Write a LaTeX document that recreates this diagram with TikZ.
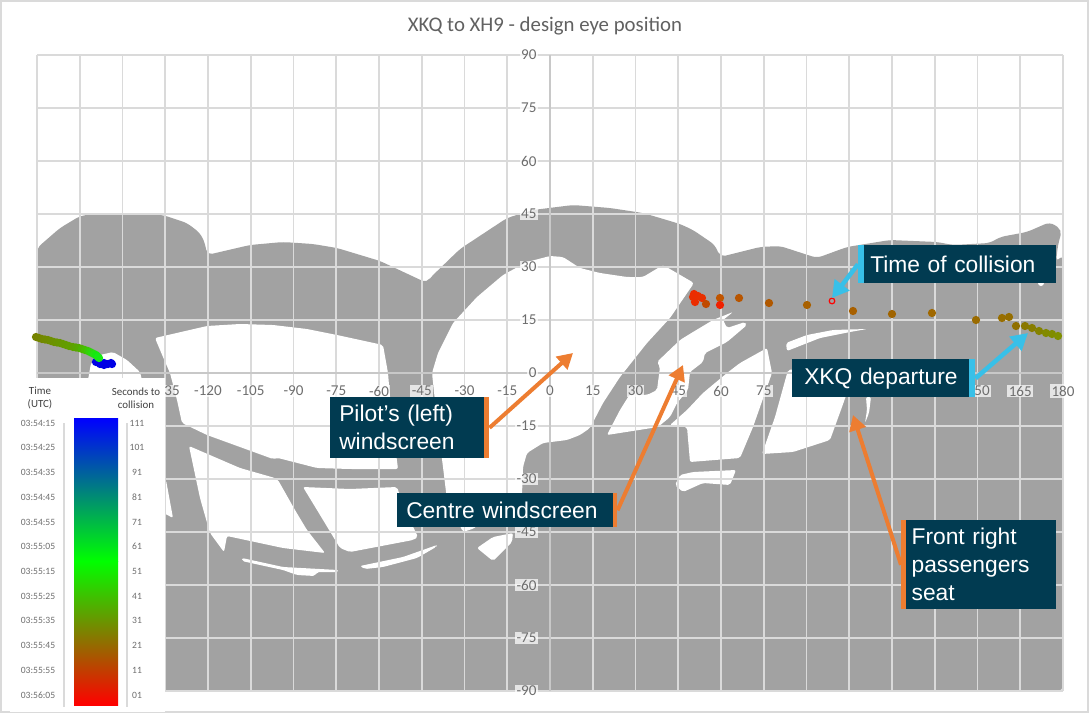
\documentclass[tikz,border=0pt]{standalone}
\usepackage{fontspec}
\setmainfont{Liberation Sans}
\newfontfamily\chartfont{Carlito}
\usetikzlibrary{arrows.meta}
\definecolor{cabin}{HTML}{A2A2A2}
\definecolor{gridc}{HTML}{DADADA}
\definecolor{axisc}{HTML}{C8C8C8}
\definecolor{labelc}{HTML}{6E6E6E}
\definecolor{boxblue}{HTML}{013B51}
\definecolor{accorange}{HTML}{ED7D31}
\definecolor{acccyan}{HTML}{38C0E8}
\tikzset{
  x=0.75pt,y=-0.75pt,
  windowshape/.style={fill=white,draw=none,rounded corners=1.5pt},
  gridline/.style={gridc,line width=1.3pt},
  axisline/.style={axisc,line width=1.3pt},
  ticklabel/.style={font=\chartfont\fontsize{11.3}{13}\selectfont,text=labelc,inner sep=1pt,fill=white,fill opacity=.72,text opacity=1},
  legendtext/.style={font=\chartfont\fontsize{7.2}{9}\selectfont,text=labelc,inner sep=0pt},
  legendhead/.style={font=\chartfont\fontsize{8.2}{9.4}\selectfont,text=black!75,inner sep=0pt,align=center},
  callout/.style={fill=boxblue,text=white,font=\fontsize{17.1}{21}\selectfont,align=left,inner ysep=0pt,inner xsep=0pt,anchor=north west},
  orangearrow/.style={accorange,line width=3pt,-{Triangle[length=11.5pt,width=12.5pt]}},
  cyanarrow/.style={acccyan,line width=3.4pt,-{Triangle[length=12.5pt,width=13.5pt]}},
  dot/.style={circle,inner sep=0pt,minimum size=6.2pt},
}
\begin{document}
\begin{tikzpicture}
\useasboundingbox (0,0) rectangle (1090,718);
\fill[white] (0,0) rectangle (1090,718);
% outer frame
\draw[gridc,line width=1pt] (1,1) rectangle (1088,712);
% title
\node[font=\chartfont\fontsize{15.6}{18}\selectfont,text=black!62] (title) at (545,26) {XKQ to XH9 - design eye position};
% cabin
\fill[cabin,rounded corners=4pt] (37,248) -- (60,228) -- (80,216) -- (100,213) -- (163,215) -- (187,223) -- (200,233) -- (205,243) -- (207,255)
 -- (250,245) -- (283,242) -- (313,244) -- (337,248) -- (380,261) -- (427,283) -- (430,278) -- (460,249) -- (507,218) -- (533,210) -- (573,205) -- (610,208) -- (643,213) -- (660,218) -- (680,224) -- (693,230) -- (715,245) -- (720,257)
 -- (760,247) -- (780,246) -- (817,258) -- (847,247) -- (890,240) -- (937,242) -- (953,245) -- (990,243) -- (1000,237) -- (1027,232) -- (1050,222) -- (1062,230) -- (1058,245) -- (1056,262) -- (1063,255)
 -- (1063,691) -- (37,691) -- cycle;
% windows
\fill[windowshape] (88,380) -- (91,363) -- (100,355) -- (113,352) -- (127,360) -- (140,372) -- (142,380) -- cycle;
\fill[windowshape] (155,338) -- (207,326) -- (240,324) -- (273,325) -- (307,329) -- (337,335) -- (383,345) -- (388,373) -- (392,420) -- (398,469) -- (350,469) -- (317,468) -- (278,458) -- (273,459) -- (207,435) -- (182,423) -- (177,400) -- (170,373) -- (163,357) -- cycle;
\fill[windowshape] (160,478) -- (166,480) -- (173,518) -- (160,511) -- cycle;
\fill[windowshape] (189,446) -- (240,468) -- (275,478) -- (278,480) -- (295,510) -- (307,530) -- (325,553) -- (283,548) -- (227,536) -- (224,552) -- (210,533) -- (200,498) -- cycle;
\fill[windowshape] (303,487) -- (350,489) -- (397,487) -- (405,510) -- (418,537) -- (413,540) -- (350,552) -- (340,548) -- (317,510) -- cycle;
\fill[windowshape] (242,558) -- (283,567) -- (338,570) -- (337,572) -- (317,572) -- (315,576) -- (297,575) -- (283,570) -- (260,565) -- (242,561) -- cycle;
\fill[windowshape] (360,566) -- (403,557) -- (437,545) -- (436,547) -- (417,558) -- (383,567) -- (365,569) -- cycle;
\fill[windowshape] (477,548) -- (493,537) -- (513,533) -- (512,542) -- (493,561) -- cycle;
\fill[windowshape,rounded corners=2pt] (432,373) -- (438,353) -- (453,323) -- (477,297) -- (503,275) -- (527,262) -- (550,256) -- (563,257) -- (580,268) -- (600,273) -- (627,277) -- (643,277) -- (663,265) -- (694,283) -- (670,318) -- (647,343) -- (620,377) -- (603,403) -- (590,428) -- (580,435) -- (567,440) -- (543,443) -- (527,453) -- (523,467) -- (522,495) -- (490,510) -- (475,528) -- (463,532) -- (447,500) -- (443,467) -- (437,420) -- cycle;
\fill[windowshape] (657,362) -- (680,340) -- (693,332) -- (713,320) -- (733,312) -- (723,320) -- (727,328) -- (745,322) -- (747,325) -- (727,342) -- (705,353) -- (703,362) -- (690,372) -- (688,390) -- (677,403) -- (670,417) -- (658,427) -- (607,435) -- (620,410) -- (630,394) -- (647,395) -- (657,390) -- (660,367) -- cycle;
\fill[windowshape] (670,425) -- (687,410) -- (703,393) -- (727,373) -- (740,363) -- (767,348) -- (772,373) -- (753,427) -- (740,458) -- (690,462) -- (687,427) -- cycle;
\fill[windowshape] (675,485) -- (680,475) -- (693,472) -- (736,470) -- (730,485) -- (703,483) -- (683,492) -- cycle;
\fill[windowshape] (788,370) -- (775,417) -- (762,454) -- (793,452) -- (830,440) -- (842,407) -- (848,390) -- (830,365) -- cycle;
\fill[windowshape] (786,343) -- (807,335) -- (833,330) -- (867,329) -- (850,332) -- (820,338) -- (787,351) -- cycle;
\fill[windowshape] (866,397) -- (871,397) -- (869,413) -- (865,423) -- (867,410) -- cycle;
\fill[white] (1041,283) circle[radius=3];
% grid
\foreach \i in {-12,...,12} \draw[gridline] ({550+\i*42.75},55) -- ({550+\i*42.75},691);
\foreach \j in {0,...,12} \draw[gridline] (37,{55+\j*53}) -- (1063,{55+\j*53});
\draw[axisline] (550,55) -- (550,691);
\draw[axisline] (37,373) -- (1063,373);
% axis labels
\foreach \v in {-120,-105,-90,-75,-60,-45,-30,-15,0,15,30,45,60,75,165,180}
  \node[ticklabel] (xl\v) at ({550+\v*2.85},391) {\v};
\node[ticklabel] (xlcutleft) at (172,391) {35};
\node[ticklabel] (xlcutright) at (982,391) {50};
\foreach \v in {90,75,60,45,30,15,0,-15,-30,-45,-60,-75,-90}
  \node[ticklabel,anchor=east] (yl\v) at (538,{373-\v*53/15}) {\v};
% trail left
\foreach \x/\y in {96/362,100/364,104/363,104/365,108/364,111/363,112/364}
  \node[dot,fill=blue!90!black] at (\x,\y) {};
\foreach \x/\y/\r/\g/\b in {36/337/118/130/0,39/338/117/132/0,42/339/115/135/0,45/339.5/114/138/0,48/340/112/140/0,51/341/110/143/0,54/342/108/145/0,57/342.5/106/148/0,60/343/104/150/0,63/344/102/153/0,66/345/100/155/0,69/346/98/158/0,73/347/95/160/0,76/347.5/90/165/0,79/348/85/170/0,82/349/78/180/0,85/350/70/190/0,88/351/60/200/5,90/352/50/210/10,92/353/42/218/12,94/354/35/225/15,96/355/25/230/15,97/356/20/232/15,98/357/20/235/20,99/358/20/235/20}
  \node[dot,fill={rgb,255:red,\r;green,\g;blue,\b}] at (\x,\y) {};
% points right
\foreach \x/\y/\r/\g/\b in {693/297/232/48/0,695/302/235/45/0,698/296/232/48/0,702/298/232/48/0,694/294/235/45/0,706/304/192/74/0,720/298/192/85/0,720/305/240/32/0,739/298/184/85/0,769/303/176/88/0,807/305/168/96/0,853/311/168/96/0,892/314/160/100/0,932/313/160/104/0,976/320/154/107/0,1002/318/152/110/0,1009/317/149/110/0,1016/326/144/112/0,1025/326/138/120/0,1032/328/135/125/0,1039/331/132/130/0,1046/333/130/138/0,1052/334/128/140/0,1058/336/128/144/0}
  \node[dot,fill={rgb,255:red,\r;green,\g;blue,\b}] at (\x,\y) {};
\node[circle,draw=red,line width=0.9pt,fill=cabin,inner sep=0pt,minimum size=4.2pt] (collisionpt) at (832,301) {};
% legend
\fill[white] (10,378) rectangle (165,712);
\node[legendhead] (timehead) at (40,398) {Time\\(UTC)};
\node[legendhead] (sechead) at (136,398) {Seconds to\\collision};
\draw[gridc,line width=1.1pt] (64,423) -- (64,707);
\draw[gridc,line width=1.1pt] (127,423) -- (127,707);
\shade[top color=blue,bottom color=green] (74,418) rectangle (118,561);
\shade[top color=green,bottom color=red] (74,561) rectangle (118,705);
\foreach \t/\s [count=\k from 0] in {03:54:15/111,03:54:25/101,03:54:35/91,03:54:45/81,03:54:55/71,03:55:05/61,03:55:15/51,03:55:25/41,03:55:35/31,03:55:45/21,03:55:55/11,03:56:05/01}{
  \node[legendtext] (tl\k) at (38,{423+\k*24.73}) {\t};
  \node[legendtext] (sl\k) at (137,{423+\k*24.73}) {\s};
}
% callouts
\coordinate (tipPilot) at (573,353);
\coordinate (tipCentre) at (683,365);
\coordinate (tipFront) at (853,415);
\coordinate (tipColl) at (832,298);
\coordinate (tipDep) at (1028,333);
\node[callout,text width=141*0.75pt,minimum height=61*0.75pt,inner xsep=9*0.75pt] (pilot) at (330,397) {Pilot’s (left)\\windscreen};
\node[callout,text width=202*0.75pt,minimum height=34*0.75pt,inner xsep=9*0.75pt] (centre) at (397,493) {Centre windscreen};
\node[callout,text width=145*0.75pt,minimum height=89*0.75pt,inner xsep=5*0.75pt] (front) at (901,520) {\hspace*{4pt}Front right\\\hspace*{4pt}passengers\\\hspace*{4pt}seat};
\node[callout,text width=190*0.75pt,minimum height=38*0.75pt,inner xsep=4*0.75pt] (coll) at (858,245) {\hspace*{6pt}Time of collision};
\node[callout,text width=175*0.75pt,minimum height=38*0.75pt,inner xsep=4*0.75pt] (dep) at (792,359) {\hspace*{6pt}XKQ departure};
\draw[orangearrow] (pilot.east) -- (tipPilot);
\draw[orangearrow] (centre.east) -- (tipCentre);
\draw[orangearrow] (front.west) -- (tipFront);
\draw[cyanarrow] (coll.west) -- (tipColl);
\draw[cyanarrow] (dep.east) -- (tipDep);
\fill[accorange] (484,397) rectangle (489,458);
\fill[accorange] (613,493) rectangle (617,527);
\fill[accorange] (901,520) rectangle (906,609);
\fill[acccyan] (858,245) rectangle (864,283);
\fill[acccyan] (969,359) rectangle (975,397);
\end{tikzpicture}
\end{document}
